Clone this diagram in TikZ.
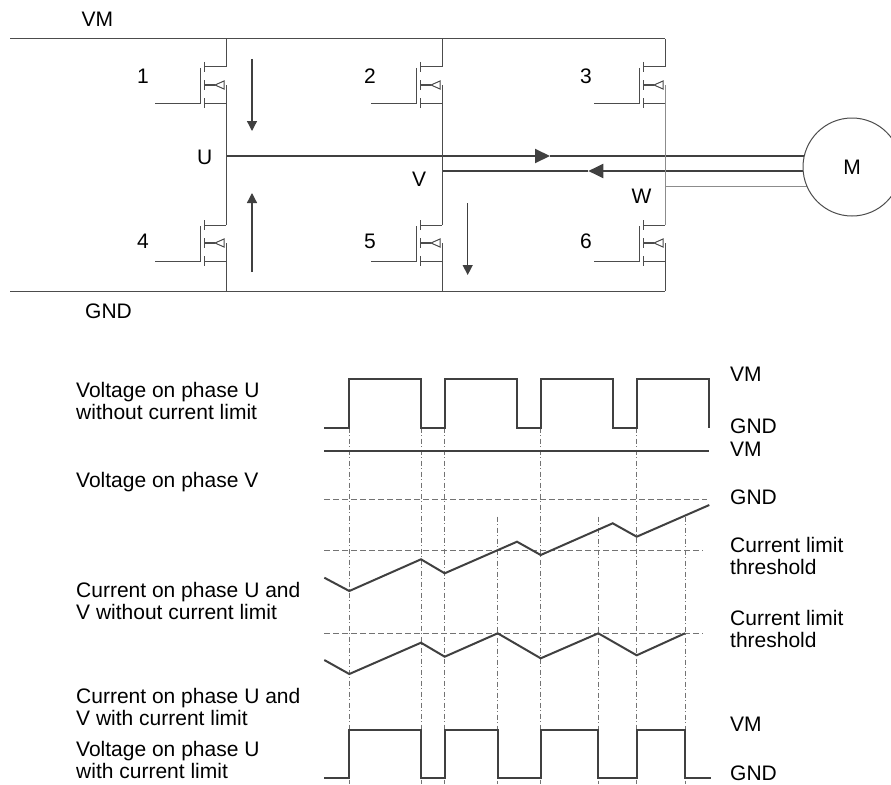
\documentclass[tikz,border=0pt]{standalone}
\usepackage{fontspec}
\setmainfont{Liberation Sans}
\usetikzlibrary{arrows.meta,backgrounds}

\definecolor{wirecol}{gray}{0.3}
\definecolor{wirelight}{gray}{0.55}
\definecolor{tracecol}{gray}{0.25}
\definecolor{guidecol}{gray}{0.45}

\tikzset{
  wire/.style={draw=wirecol, line width=1pt},
  phase/.style={draw=tracecol, line width=2pt},
  curarrow/.style={draw=tracecol, line width=1.3pt, -{Triangle[length=10pt,width=10pt]}},
  midarrow/.style={-{Triangle[length=15pt,width=14pt]}},
  wave/.style={draw=tracecol, line width=2pt},
  threshline/.style={draw=guidecol, line width=1pt, dash pattern=on 6pt off 3pt},
  guideline/.style={draw=guidecol, line width=0.8pt, dash pattern=on 5pt off 2.5pt on 1pt off 2.5pt},
  txt/.style={inner sep=0pt, font=\fontsize{21}{22.5}\selectfont},
  fet/.pic={
    \coordinate (-d) at (0,-18);
    \coordinate (-b) at (0,0);
    \draw[wire] (0,-18) -- (-22,-18);
    \draw[wire] (0,18) -- (-22,18);
    \draw[wire] (-22,-23) -- (-22,-13) (-22,-5) -- (-22,5) (-22,13) -- (-22,23);
    \draw[wire] (-25.5,-17) -- (-25.5,18) -- (-71,18);
    \draw[wire, line width=2pt] (-22,0) -- (-11,0);
    \draw[wire, fill=white] (-11,0) -- (-2,-4) -- (-2,4) -- cycle;
  }
}

\begin{document}
\begin{tikzpicture}[x=1pt,y=-1pt]
  \useasboundingbox (0,0) rectangle (891,784);

  % bridge
  \coordinate (vmL) at (10,39);
  \coordinate (gndL) at (10,291);
  \pic (q1) at (226,85) {fet};
  \pic (q2) at (442,85) {fet};
  \pic (q3) at (665,85) {fet};
  \pic (q4) at (226,243) {fet};
  \pic (q5) at (442,243) {fet};
  \pic (q6) at (665,243) {fet};
  \draw[wire] (vmL) -- (vmL -| q3-d);
  \draw[wire] (gndL) -- (gndL -| q6-d);
  \foreach \hi/\lo/\col in {q1/q4/wirecol,q2/q5/wirecol,q3/q6/wirelight} {
    \draw[wire] (\hi-d |- vmL) -- (\hi-d);
    \draw[wire, draw=\col] (\hi-b) -- (\lo-d);
    \draw[wire] (\lo-b) -- (\lo-b |- gndL);
  }
  \node[txt, anchor=base west] (n1) at (137,83) {1};
  \node[txt, anchor=base west] (n2) at (364,83) {2};
  \node[txt, anchor=base west] (n3) at (580,83) {3};
  \node[txt, anchor=base west] (n4) at (137,248.3) {4};
  \node[txt, anchor=base west] (n5) at (364,248.3) {5};
  \node[txt, anchor=base west] (n6) at (580,248.3) {6};
  \node[txt, anchor=base west] (vmlbl) at (81.5,26.7) {VM};
  \node[txt, anchor=base west] (gndlbl) at (85,318) {GND};

  % motor and phases
  \node[txt, circle, draw=wirecol, line width=1pt, fill=white, minimum size=98pt] (M) at (852,167) {M};
  \coordinate (U) at (226,156);
  \coordinate (V) at (442,171);
  \coordinate (W) at (665,186);
  \coordinate (ua) at (550,156);
  \coordinate (va) at (588.3,171);
  \begin{scope}[on background layer]
    \draw[phase, midarrow] (U) -- (ua);
    \draw[phase] (ua) -- (M.center |- U);
    \draw[phase, midarrow] (M.center |- V) -- (va);
    \draw[phase] (va) -- (V);
    \draw[wire, draw=wirelight] (W) -- (M.center |- W);
  \end{scope}
  \node[txt, anchor=base west] (ulbl) at (197,164) {U};
  \node[txt, anchor=base west] (vlbl) at (412,186.7) {V};
  \node[txt, anchor=base west] (wlbl) at (631.5,203.5) {W};

  % current flow
  \coordinate (i1a) at (252,59);   \coordinate (i1b) at (252,131);
  \coordinate (i2a) at (252,272);  \coordinate (i2b) at (252,193);
  \coordinate (i3a) at (467.7,203); \coordinate (i3b) at (467.7,275);
  \draw[curarrow] (i1a) -- (i1b);
  \draw[curarrow] (i2a) -- (i2b);
  \draw[curarrow] (i3a) -- (i3b);

  % timing
  \foreach \x in {349.3,421,444.7,540.7,636.7}
    \draw[guideline] (\x,427.7) -- (\x,784);
  \foreach \x in {497.7,598.3,685}
    \draw[guideline] (\x,516.7) -- (\x,784);
  \draw[threshline] (324.3,499.3) -- (707,499.3);
  \draw[threshline] (324.3,550.7) -- (703.3,550.7);
  \draw[threshline] (324.3,633.3) -- (703.3,633.3);

  \draw[wave] (324.3,427.7) -| (349.3,379.3) -| (421,427.7) -| (444.7,379.3)
    -| (517,427.7) -| (540.7,379.3) -| (612.7,427.7) -| (636.7,379.3) -| (709.3,427.7);
  \draw[wave] (324.3,451) -- (709.3,451);
  \draw[wave] (324.3,577.7) -- (349.3,591) -- (421,559.3) -- (444.7,573.3) -- (517,541.7)
    -- (540.7,555) -- (612.7,523.3) -- (636.7,536.7) -- (709.3,505);
  \draw[wave] (324.3,660) -- (349.3,674) -- (421,642.7) -- (444.7,656.7) -- (497.7,633.3)
    -- (540.7,658.3) -- (598.3,633.3) -- (636.7,655.3) -- (685,633.3);
  \draw[wave] (324.3,777.7) -| (349.3,730) -| (421,777.7) -| (444.7,730) -| (497.7,777.7)
    -| (540.7,730) -| (598.3,777.7) -| (636.7,730) -| (685,777.7) -- (710.7,777.7);

  \node[txt, anchor=north west, align=left] (t1) at (76,381.7) {Voltage on phase U\\without current limit};
  \node[txt, anchor=north west] (t2) at (76,472) {Voltage on phase V};
  \node[txt, anchor=north west, align=left] (t3) at (76,582) {Current on phase U and\\V without current limit};
  \node[txt, anchor=north west, align=left] (t4) at (76,688) {Current on phase U and\\V with current limit};
  \node[txt, anchor=north west, align=left] (t5) at (76,741) {Voltage on phase U\\with current limit};

  \node[txt, anchor=base west] (r1) at (730,381.7) {VM};
  \node[txt, anchor=base west] (r2) at (730,433.3) {GND};
  \node[txt, anchor=base west] (r3) at (730,456.7) {VM};
  \node[txt, anchor=base west] (r4) at (730,504.3) {GND};
  \node[txt, anchor=north west, align=left] (r5) at (730,536.7) {Current limit\\threshold};
  \node[txt, anchor=north west, align=left] (r6) at (730,610) {Current limit\\threshold};
  \node[txt, anchor=base west] (r7) at (730,731.7) {VM};
  \node[txt, anchor=base west] (r8) at (730,780.5) {GND};
\end{tikzpicture}
\end{document}
